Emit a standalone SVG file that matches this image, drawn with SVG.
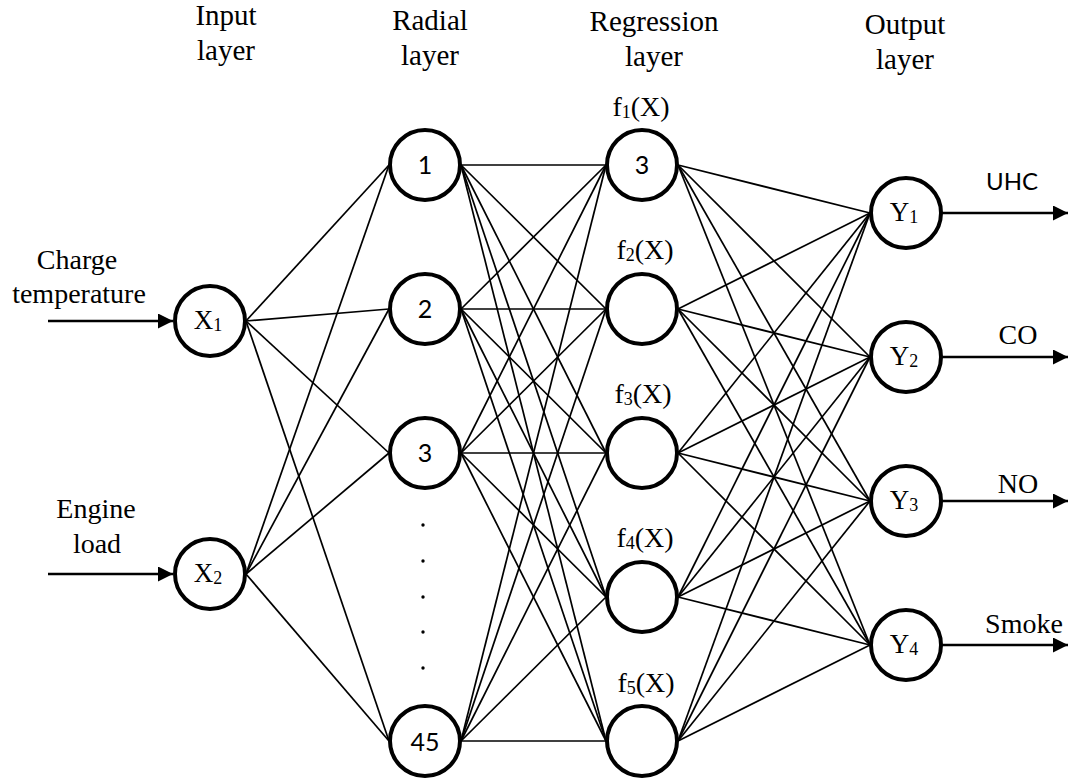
<svg xmlns="http://www.w3.org/2000/svg" width="1072" height="782" viewBox="0 0 1072 782">
  <style>
    .node { fill: #fff; stroke: #000; stroke-width: 4; }
    .conn line { stroke: #000; stroke-width: 1.7; }
    .io { stroke: #000; stroke-width: 2.6; fill: none; }
    .title { font-size: 29px; text-anchor: middle; }
    .lbl { font-size: 28px; text-anchor: middle; }
    .var { font-size: 27px; text-anchor: middle; }
    .sans { fill: #000; text-anchor: middle; }
    .num { font-size: 25px; }
    .sub { font-size: 18px; }
  </style>
  <defs>
    <marker id="arrow" markerUnits="userSpaceOnUse" viewBox="0 0 15 15" markerWidth="15" markerHeight="15" refX="15" refY="7.5" orient="auto">
      <path d="M0,0 L15,7.5 L0,15 z" fill="#000"/>
    </marker>
  </defs>

  <rect width="1072" height="782" fill="#fff"/>

  <!-- layer headings -->
  <g id="headings" class="title" font-family="Liberation Serif, DejaVu Serif, serif">
    <text x="226" y="25">Input</text>
    <text x="226" y="60">layer</text>
    <text x="430" y="30">Radial</text>
    <text x="430" y="65">layer</text>
    <text x="654" y="31">Regression</text>
    <text x="654" y="66">layer</text>
    <text x="905" y="34">Output</text>
    <text x="905" y="69">layer</text>
  </g>

  <!-- weighted connections between layers -->
  <g id="connectors" class="conn">
    <!-- input -> radial -->
    <line x1="246" y1="321" x2="389" y2="165"/>
    <line x1="246" y1="321" x2="389" y2="309"/>
    <line x1="246" y1="321" x2="389" y2="453"/>
    <line x1="246" y1="321" x2="389" y2="741"/>
    <line x1="246" y1="574" x2="389" y2="165"/>
    <line x1="246" y1="574" x2="389" y2="309"/>
    <line x1="246" y1="574" x2="389" y2="453"/>
    <line x1="246" y1="574" x2="389" y2="741"/>
    <!-- radial -> regression -->
    <line x1="461" y1="165" x2="606" y2="165"/>
    <line x1="461" y1="165" x2="606" y2="309"/>
    <line x1="461" y1="165" x2="606" y2="453"/>
    <line x1="461" y1="165" x2="606" y2="597"/>
    <line x1="461" y1="165" x2="606" y2="741"/>
    <line x1="461" y1="309" x2="606" y2="165"/>
    <line x1="461" y1="309" x2="606" y2="309"/>
    <line x1="461" y1="309" x2="606" y2="453"/>
    <line x1="461" y1="309" x2="606" y2="597"/>
    <line x1="461" y1="309" x2="606" y2="741"/>
    <line x1="461" y1="453" x2="606" y2="165"/>
    <line x1="461" y1="453" x2="606" y2="309"/>
    <line x1="461" y1="453" x2="606" y2="453"/>
    <line x1="461" y1="453" x2="606" y2="597"/>
    <line x1="461" y1="453" x2="606" y2="741"/>
    <line x1="461" y1="741" x2="606" y2="165"/>
    <line x1="461" y1="741" x2="606" y2="309"/>
    <line x1="461" y1="741" x2="606" y2="453"/>
    <line x1="461" y1="741" x2="606" y2="597"/>
    <line x1="461" y1="741" x2="606" y2="741"/>
    <!-- regression -> output -->
    <line x1="678" y1="165" x2="870" y2="213"/>
    <line x1="678" y1="165" x2="870" y2="357"/>
    <line x1="678" y1="165" x2="870" y2="501"/>
    <line x1="678" y1="165" x2="870" y2="645"/>
    <line x1="678" y1="309" x2="870" y2="213"/>
    <line x1="678" y1="309" x2="870" y2="357"/>
    <line x1="678" y1="309" x2="870" y2="501"/>
    <line x1="678" y1="309" x2="870" y2="645"/>
    <line x1="678" y1="453" x2="870" y2="213"/>
    <line x1="678" y1="453" x2="870" y2="357"/>
    <line x1="678" y1="453" x2="870" y2="501"/>
    <line x1="678" y1="453" x2="870" y2="645"/>
    <line x1="678" y1="597" x2="870" y2="213"/>
    <line x1="678" y1="597" x2="870" y2="357"/>
    <line x1="678" y1="597" x2="870" y2="501"/>
    <line x1="678" y1="597" x2="870" y2="645"/>
    <line x1="678" y1="741" x2="870" y2="213"/>
    <line x1="678" y1="741" x2="870" y2="357"/>
    <line x1="678" y1="741" x2="870" y2="501"/>
    <line x1="678" y1="741" x2="870" y2="645"/>
  </g>

  <!-- input arrows and labels -->
  <g id="inputs" font-family="Liberation Serif, DejaVu Serif, serif">
    <line class="io" x1="48" y1="321" x2="173" y2="321" marker-end="url(#arrow)"/>
    <line class="io" x1="48" y1="574" x2="173" y2="574" marker-end="url(#arrow)"/>
    <text class="lbl" x="77" y="269">Charge</text>
    <text class="lbl" x="79" y="303">temperature</text>
    <text class="lbl" x="96" y="518">Engine</text>
    <text class="lbl" x="97" y="553">load</text>
  </g>

  <!-- input layer -->
  <g id="x1" font-family="Liberation Serif, DejaVu Serif, serif">
    <circle class="node" cx="210" cy="321" r="35"/>
    <text class="var" x="208" y="329">X<tspan class="sub" dy="2">1</tspan></text>
  </g>
  <g id="x2" font-family="Liberation Serif, DejaVu Serif, serif">
    <circle class="node" cx="210" cy="574" r="35"/>
    <text class="var" x="208" y="582">X<tspan class="sub" dy="2">2</tspan></text>
  </g>

  <!-- radial layer -->
  <g id="r1" font-family="Lato, Open Sans, sans-serif">
    <circle class="node" cx="425" cy="165" r="35"/>
    <text class="sans num" x="425" y="174">1</text>
  </g>
  <g id="r2" font-family="Lato, Open Sans, sans-serif">
    <circle class="node" cx="425" cy="309" r="35"/>
    <text class="sans num" x="425" y="318">2</text>
  </g>
  <g id="r3" font-family="Lato, Open Sans, sans-serif">
    <circle class="node" cx="425" cy="453" r="35"/>
    <text class="sans num" x="425" y="462">3</text>
  </g>
  <g id="ellipsis" fill="#000">
    <circle cx="423" cy="525" r="1.7"/>
    <circle cx="423" cy="561" r="1.7"/>
    <circle cx="423" cy="597" r="1.7"/>
    <circle cx="423" cy="632" r="1.7"/>
    <circle cx="423" cy="668" r="1.7"/>
  </g>
  <g id="r45" font-family="Lato, Open Sans, sans-serif">
    <circle class="node" cx="425" cy="741" r="35"/>
    <text class="sans num" x="425" y="751">45</text>
  </g>

  <!-- regression layer -->
  <g id="f1" font-family="Liberation Serif, DejaVu Serif, serif">
    <text class="lbl" x="641" y="116">f<tspan class="sub" dy="2">1</tspan><tspan dy="-2">(X)</tspan></text>
    <circle class="node" cx="642" cy="165" r="35"/>
    <text class="sans num" font-family="Lato, Open Sans, sans-serif" x="642" y="174">3</text>
  </g>
  <g id="f2" font-family="Liberation Serif, DejaVu Serif, serif">
    <text class="lbl" x="645" y="259">f<tspan class="sub" dy="2">2</tspan><tspan dy="-2">(X)</tspan></text>
    <circle class="node" cx="642" cy="309" r="35"/>
  </g>
  <g id="f3" font-family="Liberation Serif, DejaVu Serif, serif">
    <text class="lbl" x="643" y="403">f<tspan class="sub" dy="2">3</tspan><tspan dy="-2">(X)</tspan></text>
    <circle class="node" cx="642" cy="453" r="35"/>
  </g>
  <g id="f4" font-family="Liberation Serif, DejaVu Serif, serif">
    <text class="lbl" x="645" y="547">f<tspan class="sub" dy="2">4</tspan><tspan dy="-2">(X)</tspan></text>
    <circle class="node" cx="642" cy="597" r="35"/>
  </g>
  <g id="f5" font-family="Liberation Serif, DejaVu Serif, serif">
    <text class="lbl" x="646" y="692">f<tspan class="sub" dy="2">5</tspan><tspan dy="-2">(X)</tspan></text>
    <circle class="node" cx="642" cy="741" r="35"/>
  </g>

  <!-- output layer -->
  <g id="y1" font-family="Liberation Serif, DejaVu Serif, serif">
    <circle class="node" cx="906" cy="213" r="35"/>
    <text class="var" x="904" y="221">Y<tspan class="sub" dy="2">1</tspan></text>
    <line class="io" x1="942" y1="213" x2="1068" y2="213" marker-end="url(#arrow)"/>
    <text class="sans" font-family="Lato, Open Sans, sans-serif" font-size="24" x="1012" y="190">UHC</text>
  </g>
  <g id="y2" font-family="Liberation Serif, DejaVu Serif, serif">
    <circle class="node" cx="906" cy="357" r="35"/>
    <text class="var" x="904" y="365">Y<tspan class="sub" dy="2">2</tspan></text>
    <line class="io" x1="942" y1="357" x2="1068" y2="357" marker-end="url(#arrow)"/>
    <text class="lbl" x="1018" y="344">CO</text>
  </g>
  <g id="y3" font-family="Liberation Serif, DejaVu Serif, serif">
    <circle class="node" cx="906" cy="501" r="35"/>
    <text class="var" x="904" y="509">Y<tspan class="sub" dy="2">3</tspan></text>
    <line class="io" x1="942" y1="501" x2="1068" y2="501" marker-end="url(#arrow)"/>
    <text class="lbl" x="1018" y="493">NO</text>
  </g>
  <g id="y4" font-family="Liberation Serif, DejaVu Serif, serif">
    <circle class="node" cx="906" cy="645" r="35"/>
    <text class="var" x="904" y="653">Y<tspan class="sub" dy="2">4</tspan></text>
    <line class="io" x1="942" y1="645" x2="1068" y2="645" marker-end="url(#arrow)"/>
    <text class="lbl" x="1024" y="633">Smoke</text>
  </g>
</svg>
